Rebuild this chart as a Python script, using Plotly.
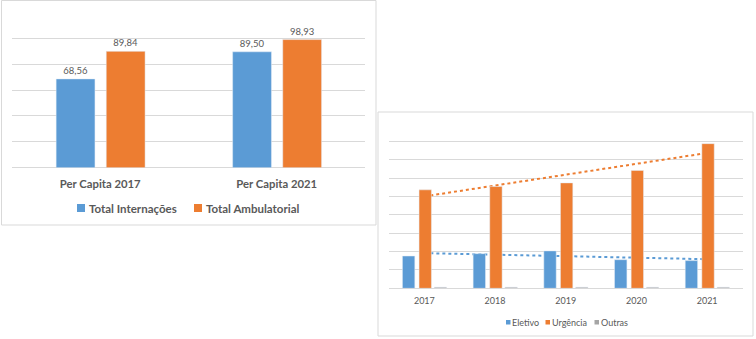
import numpy as np
import plotly.graph_objects as go

# ---------------- data ----------------
left_categories = ["Per Capita 2017", "Per Capita 2021"]
total_internacoes = [68.56, 89.50]
total_ambulatorial = [89.84, 98.93]

years = ["2017", "2018", "2019", "2020", "2021"]
eletivo = [1760, 1890, 2040, 1560, 1510]
urgencia = [5370, 5550, 5750, 6430, 7890]
outras = [60, 60, 60, 60, 60]

left_series = ["Total Internações", "Total Ambulatorial"]
right_series = ["Eletivo", "Urgência", "Outras"]

BLUE = "#5B9BD5"
ORANGE = "#ED7D31"
GRAY = "#A5A5A5"
TXT = "#595959"
GRID = "#D9D9D9"

W, H = 756, 339


def px(x):
    return x / W


def py(y):
    return 1 - y / H


fig = go.Figure()

# ---------------- left chart ----------------
for vals, name, col, off in [(total_internacoes, left_series[0], BLUE, -0.25),
                             (total_ambulatorial, left_series[1], ORANGE, 0.034)]:
    fig.add_trace(go.Bar(
        x=left_categories, y=vals, name=name,
        marker_color=col, width=0.22, offset=off,
        texttemplate="%{y:.2f}", textposition="outside",
        textfont=dict(family="Lato", size=9.5, color=TXT),
        xaxis="x", yaxis="y", showlegend=False, cliponaxis=False,
    ))

# ---------------- right chart ----------------
xi = np.arange(len(years))
for vals, col in [(urgencia, ORANGE), (eletivo, BLUE)]:
    slope, intercept = np.polyfit(xi, np.array(vals, dtype=float), 1)
    trend = intercept + slope * xi
    fig.add_trace(go.Scatter(
        x=years, y=trend, mode="lines",
        line=dict(color=col, width=2, dash="dot"),
        xaxis="x2", yaxis="y2", showlegend=False, hoverinfo="skip", zorder=0,
    ))

for vals, name, col, off in [(eletivo, right_series[0], BLUE, -0.31),
                             (urgencia, right_series[1], ORANGE, -0.075),
                             (outras, right_series[2], GRAY, 0.14)]:
    fig.add_trace(go.Bar(
        x=years, y=vals, name=name, marker_color=col, width=0.175, offset=off,
        xaxis="x2", yaxis="y2", showlegend=False, zorder=1,
    ))

# ---------------- legends (swatch + text, Excel style) ----------------
shapes = [
    dict(type="rect", xref="paper", yref="paper",
         x0=px(1.5), x1=px(376), y0=py(225), y1=py(0.5),
         line=dict(color=GRID, width=1), fillcolor="rgba(0,0,0,0)", layer="below"),
    dict(type="rect", xref="paper", yref="paper",
         x0=px(378), x1=px(753), y0=py(336), y1=py(112),
         line=dict(color=GRID, width=1), fillcolor="rgba(0,0,0,0)", layer="below"),
]
annotations = []

left_leg = [(left_series[0], BLUE, 77, 87), (left_series[1], ORANGE, 194, 204)]
for name, col, sx, tx in left_leg:
    shapes.append(dict(type="rect", xref="paper", yref="paper",
                       x0=px(sx), x1=px(sx + 8), y0=py(212), y1=py(204),
                       line=dict(width=0), fillcolor=col))
    annotations.append(dict(xref="paper", yref="paper", x=px(tx), y=py(208),
                            xanchor="left", yanchor="middle", showarrow=False,
                            text=name,
                            font=dict(family="Lato", size=11.5, color=TXT, weight="bold")))

right_leg = [(right_series[0], BLUE, 506, 509.5), (right_series[1], ORANGE, 545.5, 549.5),
             (right_series[2], GRAY, 594.5, 598.5)]
for name, col, sx, tx in right_leg:
    shapes.append(dict(type="rect", xref="paper", yref="paper",
                       x0=px(sx), x1=px(sx + 4.5), y0=py(324.5), y1=py(320),
                       line=dict(width=0), fillcolor=col))
    annotations.append(dict(xref="paper", yref="paper", x=px(tx), y=py(322.3),
                            xanchor="left", yanchor="middle", showarrow=False,
                            text=name,
                            font=dict(family="Lato", size=9, color=TXT)))

fig.update_layout(
    width=W, height=H,
    margin=dict(l=0, r=0, t=0, b=0),
    paper_bgcolor="white", plot_bgcolor="white",
    barmode="overlay",
    separators=",.",
    showlegend=False,
    xaxis=dict(
        domain=[px(12), px(365)], range=[-0.5, 1.5], anchor="y",
        showgrid=False, showline=False, ticks="", zeroline=False,
        tickfont=dict(family="Lato", size=11.3, color=TXT, weight="bold"),
        ticklabelstandoff=8,
    ),
    yaxis=dict(
        domain=[py(167.7), py(12.3)], range=[0, 120], dtick=20, anchor="x",
        showgrid=True, gridcolor=GRID, gridwidth=1,
        zeroline=True, zerolinecolor=GRID, zerolinewidth=1,
        showticklabels=False, ticks="",
    ),
    xaxis2=dict(
        domain=[px(389), px(742.5)], range=[-0.5, 4.5], anchor="y2",
        showgrid=False, showline=False, ticks="", zeroline=False,
        tickfont=dict(family="Lato", size=9, color=TXT),
        ticklabelstandoff=6,
    ),
    yaxis2=dict(
        domain=[py(288.3), py(123.3)], range=[0, 9000], dtick=1000, anchor="x2",
        showgrid=True, gridcolor=GRID, gridwidth=1,
        zeroline=True, zerolinecolor=GRID, zerolinewidth=1,
        showticklabels=False, ticks="",
    ),
    shapes=shapes,
    annotations=annotations,
)

fig.write_html("out.html")
